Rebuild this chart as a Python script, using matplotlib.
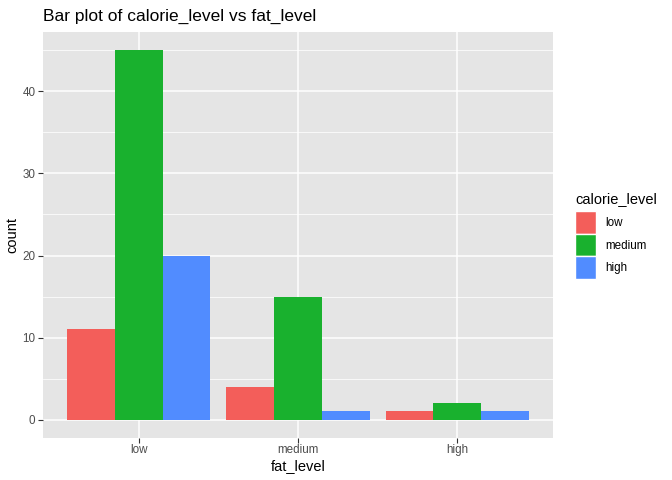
import numpy as np
import matplotlib
matplotlib.use("Agg")
import matplotlib.pyplot as plt
from matplotlib.patches import Patch

plt.rcParams['font.family'] = ['Liberation Sans', 'DejaVu Sans']

fat_levels = ['low', 'medium', 'high']
calorie_levels = ['low', 'medium', 'high']
counts_low = [11, 4, 1]
counts_medium = [45, 15, 2]
counts_high = [20, 1, 1]
colores = ['#F35E5A', '#19B12E', '#518CFF']

fig = plt.figure(figsize=(6.72, 4.8), dpi=100)
ax = fig.add_axes([43 / 672, 1 - 438 / 480, (553 - 43) / 672, (438 - 32) / 480])

ax.set_facecolor('#E5E5E5')
for s in ax.spines.values():
    s.set_visible(False)

x = np.arange(1, len(fat_levels) + 1)
ancho = 0.3
series = [counts_low, counts_medium, counts_high]
for i, (vals, col) in enumerate(zip(series, colores)):
    ax.bar(x + (i - 1) * ancho, vals, width=ancho, color=col, zorder=3)

ax.set_xlim(0.4, 3.6)
ax.set_ylim(-2.25, 47.25)
ax.set_xticks(x)
ax.set_xticklabels(fat_levels)
ax.set_yticks([0, 10, 20, 30, 40])
ax.set_yticks([5, 15, 25, 35, 45], minor=True)
ax.grid(which='major', color='white', linewidth=1.1, zorder=0)
ax.grid(which='minor', axis='y', color='white', linewidth=0.55, zorder=0)
ax.tick_params(which='major', length=3.5, width=0.8, color='#333333',
               labelsize=8.4, labelcolor='#4D4D4D', pad=2)
ax.tick_params(axis='x', pad=1)
ax.tick_params(which='minor', length=0)

ax.set_xlabel('fat_level', fontsize=10.5, labelpad=2)
ax.set_ylabel('count', fontsize=10.5, labelpad=2)
ax.set_title('Bar plot of calorie_level vs fat_level', fontsize=12.5, loc='left', pad=8)

handles = [Patch(facecolor=c, edgecolor='white', linewidth=1.0, label=l)
           for c, l in zip(colores, calorie_levels)]
leg = fig.legend(handles=handles, title='calorie_level', loc='upper left',
                 bbox_to_anchor=(566 / 672, 1 - 183 / 480), frameon=False,
                 fontsize=8.4, title_fontsize=10.5, handlelength=1.8, handleheight=2.6,
                 handletextpad=0.8, labelspacing=0.0, borderpad=0.3)
leg._legend_box.align = 'left'
leg._legend_box.sep = 3.5

fig.savefig('out.png', dpi=100)
